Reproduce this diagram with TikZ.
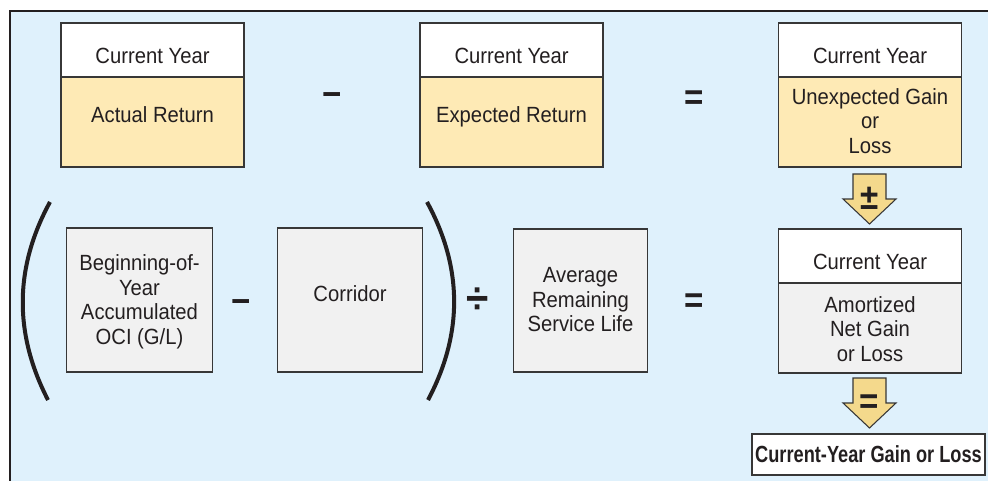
\documentclass[tikz,border=0pt]{standalone}
\usepackage{fontspec}
\setmainfont{Liberation Sans}[FakeStretch=0.92]
\newfontfamily\condfont{Liberation Sans}[FakeStretch=0.78]
\definecolor{panelblue}{RGB}{223,241,252}
\definecolor{ylw}{RGB}{254,234,181}
\definecolor{arrowylw}{RGB}{244,217,140}
\definecolor{gry}{RGB}{241,241,241}
\definecolor{linegray}{RGB}{55,55,55}
\definecolor{ink}{RGB}{35,31,32}
\begin{document}
\begin{tikzpicture}[x=0.75pt,y=-0.75pt,
	box/.style={draw=linegray,line width=0.9pt,inner sep=0pt},
	head/.style={box,fill=white,minimum width=137.25pt,minimum height=40.5pt},
	ybody/.style={box,fill=ylw,minimum width=137.25pt,minimum height=67.5pt},
	gbody/.style={box,fill=gry,minimum width=137.25pt,minimum height=67.5pt},
	gsquare/.style={box,fill=gry,minimum width=109pt,minimum height=108pt},
	txt/.style={text=ink,font=\fontsize{16.5}{18.4}\selectfont,align=center,inner sep=0pt},
	sym/.style={text=ink,font=\fontsize{27}{27}\selectfont\bfseries,inner sep=0pt,text height=17pt,text depth=0pt},
	paren/.style={line width=3pt,ink},
	blockarrow/.style={draw=linegray,line width=0.8pt,fill=arrowylw}]
	
	\useasboundingbox (0,0) rectangle (988,481);
	\clip (0,0) rectangle (988,481);
	\filldraw[fill=panelblue,draw=ink,line width=1.1pt] (10,11) rectangle (1000,495);
	
	% top row
	\node[head] (hdA) at (152.5,50) {};
	\node[ybody] (bdA) at (152.5,122) {};
	\node[head] (hdB) at (511.5,50) {};
	\node[ybody] (bdB) at (511.5,122) {};
	\node[head] (hdC) at (870,50) {};
	\node[ybody] (bdC) at (870,122) {};
	\foreach \n/\x in {A/152.5,B/511.5,C/870}
		\node[txt,anchor=base] (cy\n) at (\x,64) {Current Year};
	\node[txt,anchor=base] (actual) at (152.5,123) {Actual Return};
	\node[txt,anchor=base] (expected) at (511.5,123) {Expected Return};
	\node[txt] (unexp) at (870,121) {Unexpected Gain\\or\\Loss};
	\node[sym] (minusA) at (332,95) {−};
	\node[sym] (eqA) at (694,98) {=};
	
	% bottom row
	\node[gsquare] (beg) at (139.5,300) {};
	\node[gsquare] (corr) at (350,300) {};
	\node[box,fill=gry,minimum width=100pt,minimum height=107.25pt] (avg) at (580.5,300.5) {};
	\node[txt] (begtxt) at (139.5,302) {Beginning-of-\\Year\\Accumulated\\OCI (G/L)};
	\node[txt,anchor=base] (corrtxt) at (350,301) {Corridor};
	\node[txt] (avgtxt) at (580.5,300) {Average\\Remaining\\Service Life};
	\node[sym] (minusB) at (241.5,302) {−};
	\node[sym,font=\fontsize{33}{33}\selectfont\bfseries,text height=20pt] (divB) at (477.5,300) {÷};
	\node[sym] (eqB) at (694.5,301) {=};
	\draw[paren] (50,202) .. controls (14,268) and (14,334) .. (48,400);
	\draw[paren] (427,202) .. controls (463,268) and (463,334) .. (428,400);
	
	% right column
	\node[head] (hdD) at (870,256) {};
	\node[gbody] (bdD) at (870,328) {};
	\node[txt,anchor=base] (cyD) at (870,269) {Current Year};
	\node[txt] (amort) at (870,329) {Amortized\\Net Gain\\or Loss};
	\foreach \t/\s/\n in {174/±/pm,378/=/eq}{
		\filldraw[blockarrow] (853,\t) -- (886,\t) -- (886,\t+25) -- (896,\t+25)
			-- (869.5,\t+50) -- (843,\t+25) -- (853,\t+25) -- cycle;
		\node[sym] (ar\n) at (869.5,\t+24) {\s};
	}
	\node[box,fill=white,minimum width=174.75pt,minimum height=30.75pt,text=ink,
		text depth=0pt,font={\condfont\bfseries\fontsize{17.5}{20}\selectfont}]
		(result) at (868.5,454.5) {Current-Year Gain or Loss};
	
\end{tikzpicture}
\end{document}
